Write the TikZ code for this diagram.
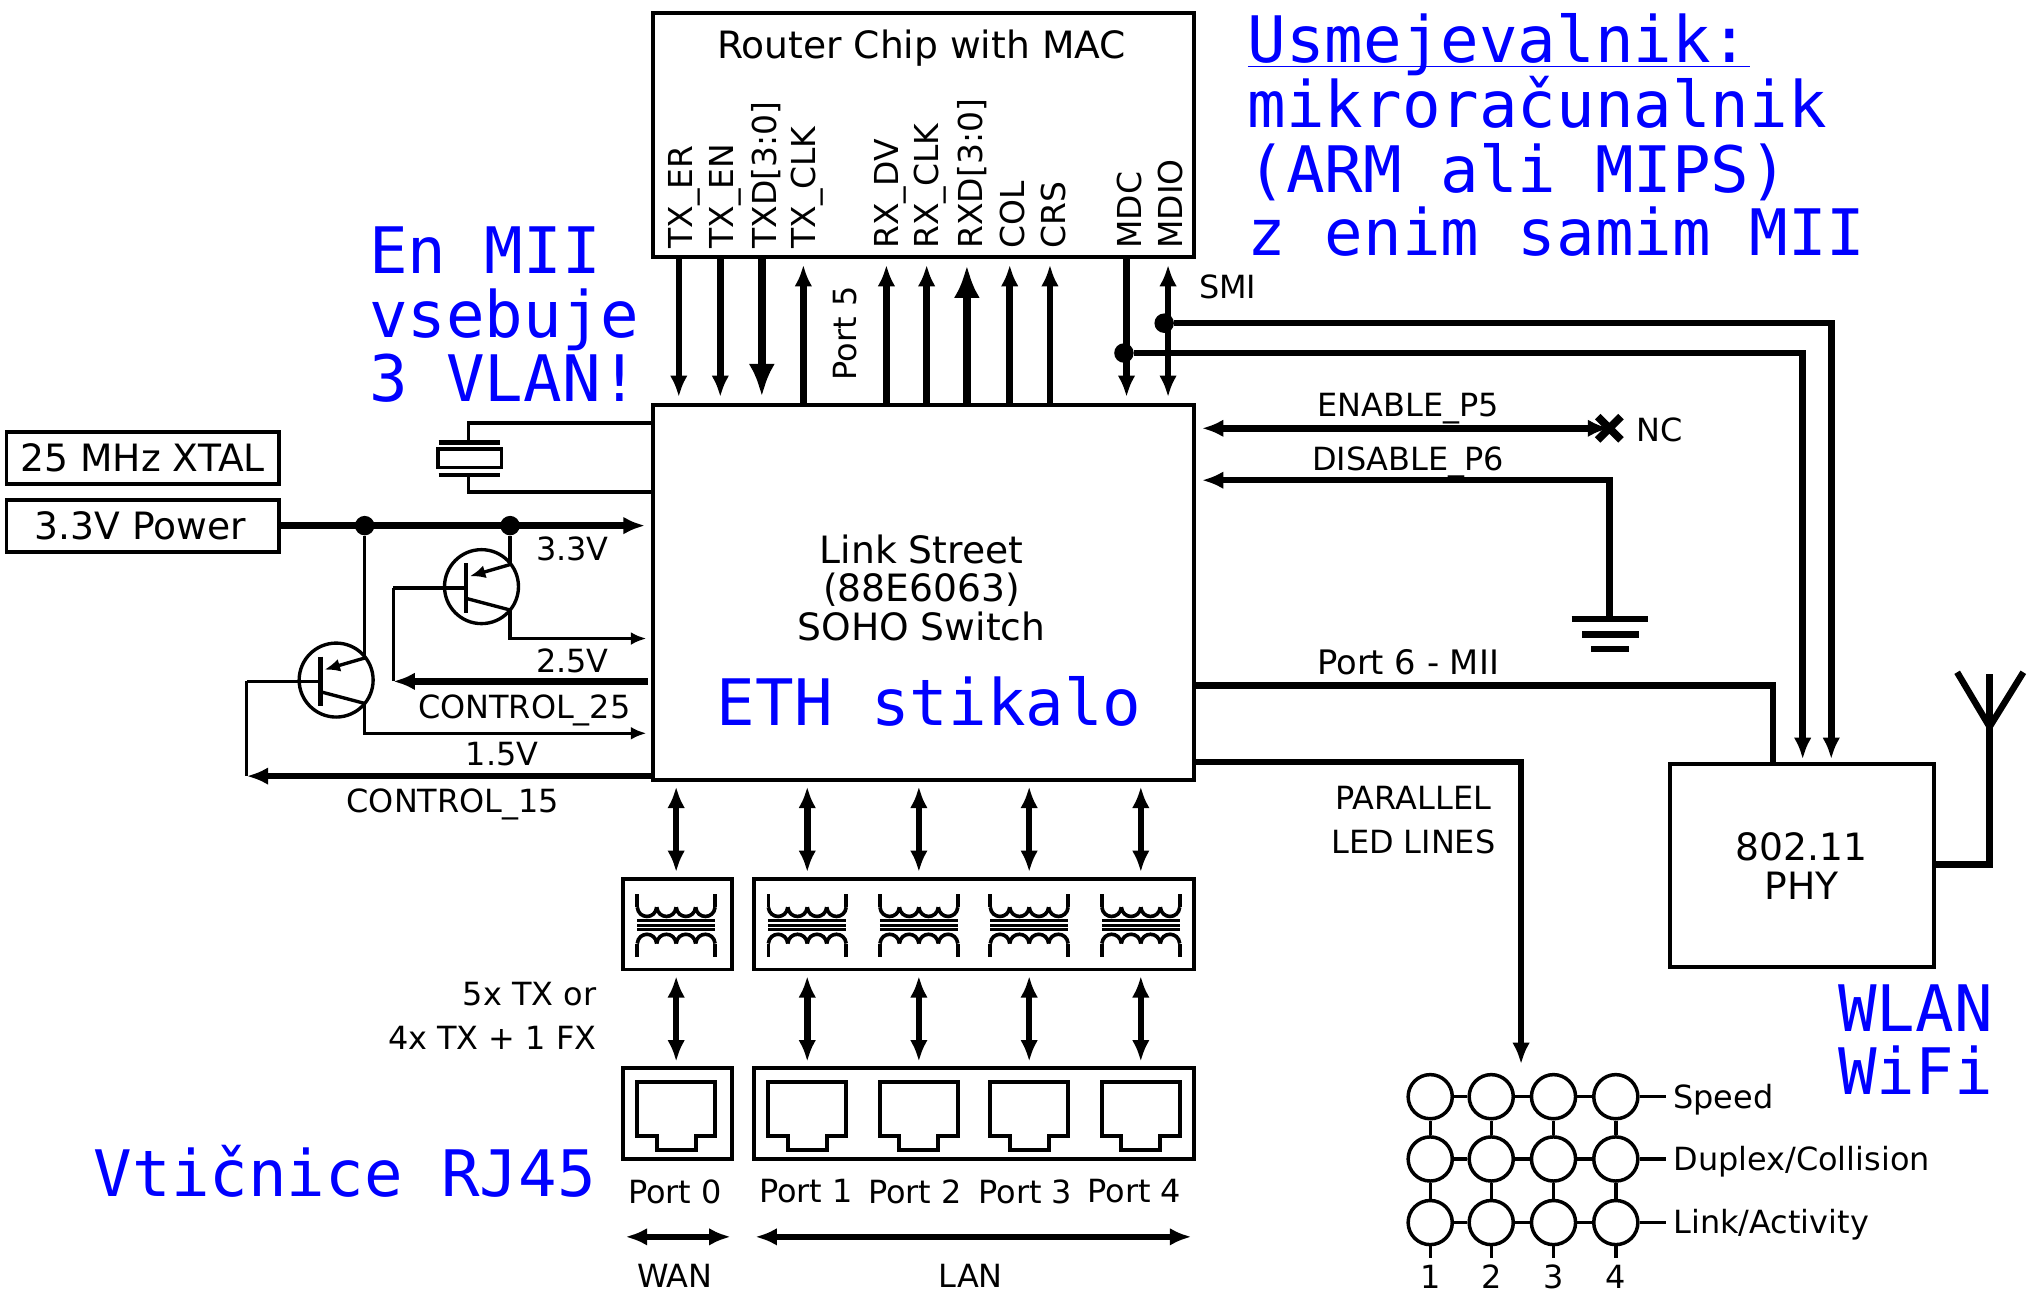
\documentclass[tikz,border=0pt]{standalone}
\usepackage{fontspec}
\setmainfont{DejaVu Sans}
\setmonofont{DejaVu Sans Mono}
\usetikzlibrary{arrows.meta}
\begin{document}
\begin{tikzpicture}[x=0.5pt, y=-0.5pt, font=\fontsize{14.5}{15}\selectfont, >={Latex[length=8.3pt,width=6.8pt]},
      boxnode/.style={draw, line width=1.5pt, inner sep=0pt},
      txtnode/.style={inner sep=0pt, align=center},
      smalltxt/.style={txtnode, font=\fontsize{12.3}{17}\selectfont},
      pinlbl/.style={txtnode, font=\fontsize{12.7}{17}\selectfont, rotate=90, anchor=west},
      bluetxt/.style={txtnode, align=left, text=blue, anchor=base west, font=\ttfamily\fontsize{24.7}{25}\selectfont},
      dotnode/.style={circle, fill=black, inner sep=0pt, minimum size=7.5pt},
      lednode/.style={circle, draw, line width=1.35pt, fill=white, inner sep=0pt, minimum size=17pt},
      wire/.style={line width=1.3pt},
      bus/.style={line width=2.5pt},
      fatbus/.style={line width=3pt, >={Latex[length=12.8pt,width=10pt]}},
      magnet/.pic={
        \foreach \s in {-1,1} {
          \draw[line width=1.4pt] (-30,-24*\s) -- (-30,-14*\s);
          \draw[line width=1.4pt] (30,-24*\s) -- (30,-14*\s);
          \foreach \i in {-30,-15,0,15}
            \draw[line width=1.4pt] (\i,-14*\s) .. controls (\i+1,-4.5*\s) and (\i+14,-4.5*\s) .. (\i+15,-14*\s);
        }
        \foreach \k in {-3.5,0,3.5}
          \draw[line width=1.2pt] (-30,\k) -- (30,\k);
      },
      jack/.pic={
        \draw[line width=1.6pt] (-30,-24) -- (30,-24) -- (30,17) -- (15,17) -- (15,28) -- (-15,28) -- (-15,17) -- (-30,17) -- cycle;
      }]
    \useasboundingbox (0,0) rectangle (1568,996);
    \node[boxnode, minimum width=208.5pt, minimum height=94pt] (router) at (711.5,104) {};
    \node[boxnode, minimum width=208.5pt, minimum height=144.5pt] (switch) at (711.5,456.5) {};
    \node[boxnode, minimum width=101.5pt, minimum height=78pt] (phy) at (1388.5,667) {};
    \node[boxnode, minimum width=105pt, minimum height=20pt] (xtal) at (110,353) {};
    \node[boxnode, minimum width=105pt, minimum height=20pt] (power) at (110,405) {};
    \node[boxnode, minimum width=42pt, minimum height=35pt] (magwan) at (522,712) {};
    \node[boxnode, minimum width=169.5pt, minimum height=35pt] (maglan) at (750.5,712) {};
    \node[boxnode, minimum width=42pt, minimum height=35pt] (jackwan) at (522,858) {};
    \node[boxnode, minimum width=169.5pt, minimum height=35pt] (jacklan) at (750.5,858) {};

    \node[txtnode] (routerlbl) at (710,37) {Router Chip with MAC};
    \node[txtnode] (switchlbl) at (710,453) {Link Street\\(88E6063)\\SOHO Switch};
    \node[txtnode] (phylbl) at (1388,667) {802.11\\PHY};
    \node[txtnode] (xtallbl) at (110,353) {25 MHz XTAL};
    \node[txtnode] (powerlbl) at (108,405) {3.3V Power};

    \node[bluetxt] (usm) at (961,48.5) {\underline{\smash{Usmejevalnik:}}};
    \node[bluetxt] (usm2) at (961,98) {mikroračunalnik};
    \node[bluetxt] (usm3) at (961,148) {(ARM ali MIPS)};
    \node[bluetxt] (usm4) at (961,197) {z enim samim MII};
    \node[bluetxt] (enmii) at (284,211) {En MII};
    \node[bluetxt] (enmii2) at (284,260) {vsebuje};
    \node[bluetxt] (enmii3) at (284,309) {3 VLAN!};
    \node[bluetxt] (eth) at (552,559) {ETH stikalo};
    \node[bluetxt] (wlan) at (1416,795) {WLAN};
    \node[bluetxt] (wifi) at (1416,843) {WiFi};
    \node[bluetxt] (rj45) at (72,922) {Vtičnice RJ45};

    \foreach \x/\n in {527/TX\_ER, 559/TX\_EN, 590/{TXD[3:0]}, 622/TX\_CLK, 686/RX\_DV, 717/RX\_CLK, 749/{RXD[3:0]}, 780/COL, 812/CRS, 870/MDC, 902/MDIO}
      \node[pinlbl] (pin\x) at (\x,192) {\n};

    \foreach \x/\n in {523/txer, 555/txen, 868/mdc} {
      \coordinate (\n a) at (\x,198);
      \coordinate (\n b) at (\x,306);
      \draw[bus, ->] (\n a) -- (\n b);
    }
    \coordinate (txda) at (587,198);
    \coordinate (txdb) at (587,306);
    \draw[fatbus, ->] (txda) -- (txdb);
    \foreach \x/\n in {619/txclk, 683/rxdv, 714/rxclk, 778/col, 809/crs} {
      \coordinate (\n a) at (\x,312);
      \coordinate (\n b) at (\x,204);
      \draw[bus, ->] (\n a) -- (\n b);
    }
    \coordinate (rxda) at (745,312);
    \coordinate (rxdb) at (745,204);
    \draw[fatbus, ->] (rxda) -- (rxdb);
    \coordinate (mdioa) at (900,204);
    \coordinate (mdiob) at (900,306);
    \draw[bus, <->] (mdioa) -- (mdiob);

    \node[smalltxt] (smi) at (946,221) {SMI};
    \node[smalltxt, rotate=90] (port5) at (651,257) {Port 5};

    \node[dotnode] (smia) at (897,249) {};
    \node[dotnode] (smib) at (866,272) {};
    \coordinate (smiae) at (1411,585);
    \coordinate (smibe) at (1389,585);
    \draw[bus, ->] (smia) -| (smiae);
    \draw[bus, ->] (smib) -| (smibe);

    \node[smalltxt] (enlbl) at (1085,315) {ENABLE\_P5};
    \node[smalltxt] (dislbl) at (1085,356) {DISABLE\_P6};
    \node[smalltxt] (ncl) at (1279,331) {NC};
    \node[smalltxt, font=\fontsize{13}{17}\selectfont] (p6lbl) at (1085,510) {Port 6 - MII};
    \node[smalltxt] (ledlbl) at (1089,632) {PARALLEL\\LED LINES};

    \coordinate (ena) at (926,330);
    \coordinate (enb) at (1240,330);
    \draw[bus, <->] (ena) -- (enb);
    \draw[line width=3pt] (1231,321) -- (1249,339) (1231,339) -- (1249,321);

    \coordinate (disa) at (926,370);
    \coordinate (disb) at (1240,370);
    \coordinate (gnd) at (1240,477);
    \draw[bus, <-] (disa) -- (disb) -- (gnd);
    \draw[bus] (1211,477) -- (1270,477);
    \draw[bus] (1219,489) -- (1263,489);
    \draw[bus] (1226,500) -- (1255,500);

    \coordinate (p6a) at (920,528);
    \coordinate (p6b) at (1366,589);
    \draw[bus] (p6a) -| (p6b);

    \coordinate (leda) at (920,587);
    \coordinate (ledb) at (1172,820);
    \draw[bus, ->] (leda) -| (ledb);

    \coordinate (anta) at (1490,666);
    \coordinate (antb) at (1533,519);
    \draw[bus] (anta) -| (antb);
    \draw[bus] (1508,518) -- (1533,560) -- (1559,518);

    % LED matrix
    \foreach \c/\x in {1/1102, 2/1149, 3/1197, 4/1245}
      \foreach \r/\y in {1/845, 2/893, 3/942}
        \node[lednode] (led\c\r) at (\x,\y) {};
    \foreach \r/\n in {1/Speed, 2/Duplex\slash Collision, 3/Link\slash Activity} {
      \coordinate (ledend\r) at (1284,0 |- led1\r);
      \draw[wire] (led1\r) -- (led2\r);
      \draw[wire] (led2\r) -- (led3\r);
      \draw[wire] (led3\r) -- (led4\r);
      \draw[wire] (led4\r) -- (ledend\r);
      \node[smalltxt, anchor=west] (ledlbl\r) at ([yshift=-1pt]1289,0 |- led1\r) {\n};
    }
    \foreach \c in {1,2,3,4} {
      \coordinate (ledbot\c) at ([yshift=-13.5pt]led\c3);
      \draw[wire] (led\c1) -- (led\c2);
      \draw[wire] (led\c2) -- (led\c3);
      \draw[wire] (led\c3) -- (ledbot\c);
      \node[smalltxt] (ledcol\c) at ([yshift=-21pt]led\c3) {\c};
    }

    % crystal
    \coordinate (xa) at (503,326);
    \coordinate (xb) at (361,326);
    \coordinate (xc) at (361,341);
    \coordinate (xd) at (361,366);
    \coordinate (xe) at (361,379);
    \coordinate (xf) at (503,379);
    \draw[wire] (xa) -- (xb) -- (xc);
    \draw[wire] (xd) -- (xe) -- (xf);
    \draw[line width=1.6pt] (338,341) -- (385,341);
    \draw[line width=1.6pt] (338,366) -- (385,366);
    \node[boxnode, line width=1.3pt, minimum width=24.5pt, minimum height=7pt] (xrect) at (362,353) {};

    % power and regulators
    \coordinate (pwrend) at (497,405);
    \draw[bus, ->] (power) -- (pwrend);
    \node[dotnode] (pa) at (281,405) {};
    \node[dotnode] (pb) at (393,405) {};

    \node[draw, circle, wire, inner sep=0pt, minimum size=28.5pt] (qa) at (371,452) {};
    \node[draw, circle, wire, inner sep=0pt, minimum size=28.5pt] (qb) at (259,524) {};
    \foreach \n/\x/\y/\ex/\wx/\ce/\cy/\ee in {qa/359/453/393/303/470/492/435, qb/247/525/281/190/542/565/507} {
      \coordinate (\n base) at (\x,\y);
      \coordinate (\n wire) at (\wx,\y);
      \coordinate (\n e) at (\ex,\ee);
      \coordinate (\n c) at (\ex,\ce);
      \coordinate (\n out) at (\ex,\cy);
      \coordinate (\n end) at (498,\cy);
      \draw[line width=1.6pt] (\x,\y-19) -- (\x,\y+19);
      \draw[wire] (\n base) -- (\n wire);
      \draw[wire, -{Latex[length=6pt,width=5pt]}] (\n e) -- (\x+3,\y-9);
      \draw[wire] (\x,\y+8) -- (\n c);
      \draw[wire, -{Latex[length=6pt,width=5pt]}] (\n c) -- (\n out) -- (\n end);
    }
    \draw[wire] (pb) -- (qae);
    \draw[wire] (pa) -- (qbe);

    \coordinate (c25a) at (499,525);
    \coordinate (c25b) at (303,525);
    \draw[bus, ->] (c25a) -- (c25b);
    \draw[wire] (qawire) -- (c25b);
    \coordinate (c15a) at (503,598);
    \coordinate (c15b) at (190,598);
    \draw[bus, ->] (c15a) -- (c15b);
    \draw[wire] (qbwire) -- (c15b);

    \node[smalltxt] (v33) at (441,423) {3.3V};
    \node[smalltxt] (v25) at (441,509) {2.5V};
    \node[smalltxt] (v15) at (387,581) {1.5V};
    \node[smalltxt] (c25) at (404,547) {CONTROL\_25};
    \node[smalltxt] (c15) at (349,620) {CONTROL\_15};

    % ports
    \foreach \n/\x/\lx in {0/521/520, 1/622/621, 2/708/705, 3/793/790, 4/879/874} {
      \coordinate (pt\n a) at (\x,606);
      \coordinate (pt\n b) at (\x,672);
      \coordinate (pt\n c) at (\x,752);
      \coordinate (pt\n d) at (\x,818);
      \draw[bus, <->] (pt\n a) -- (pt\n b);
      \draw[bus, <->] (pt\n c) -- (pt\n d);
      \pic at (\x,713) {magnet};
      \pic at (\x,858) {jack};
      \node[smalltxt] (ptlbl\n) at (\lx,918) {Port \n};
    }

    \coordinate (wana) at (482,953);
    \coordinate (wanb) at (563,953);
    \draw[bus, <->] (wana) -- (wanb);
    \coordinate (lana) at (582,953);
    \coordinate (lanb) at (918,953);
    \draw[bus, <->] (lana) -- (lanb);
    \node[smalltxt] (wanlbl) at (520,983) {WAN};
    \node[smalltxt] (lanlbl) at (748,983) {LAN};
    \node[smalltxt, align=right, anchor=east] (txlbl) at (460,783) {5x TX or\\4x TX + 1 FX};
\end{tikzpicture}
\end{document}
